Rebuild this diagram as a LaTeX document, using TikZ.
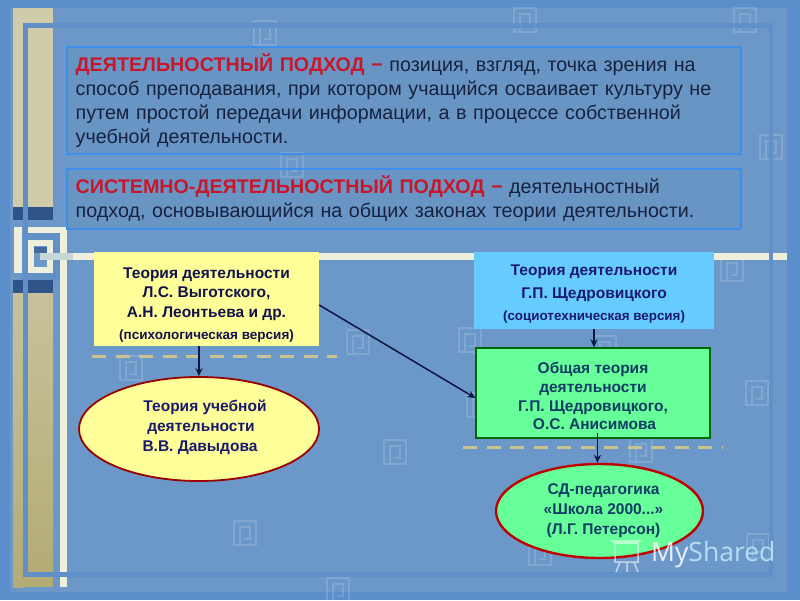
\documentclass[tikz,border=0pt]{standalone}
\usepackage{fontspec}
\setmainfont{Liberation Sans}
\newfontfamily\wmfont{Open Sans}
\usetikzlibrary{shapes.geometric,calc,arrows.meta}
\definecolor{bgout}{HTML}{5A8FCB}
\definecolor{bgin}{HTML}{6C98C9}
\definecolor{frameline}{HTML}{6190C8}
\definecolor{beigetop}{HTML}{D0CBAB}
\definecolor{beigebot}{HTML}{B3AC75}
\definecolor{darkbar}{HTML}{2F5588}
\definecolor{ivory}{HTML}{EEF0DC}
\definecolor{boxline}{HTML}{3D8FEA}
\definecolor{bodytext}{HTML}{16223F}
\definecolor{redtext}{HTML}{C8162B}
\definecolor{navy}{HTML}{1A1A6E}
\definecolor{tealnavy}{HTML}{123C66}
\definecolor{dashcol}{HTML}{C9C391}
\definecolor{cardyellow}{HTML}{FFFF99}
\definecolor{cardblue}{HTML}{66CCFF}
\definecolor{cardgreen}{HTML}{66FF99}
\definecolor{arrowink}{HTML}{0A1540}
\newcommand{\wmark}[2]{%
  \draw[white,opacity=.15,line width=2.2pt,line join=miter]
    (#1-11,#2-12) rectangle (#1+11,#2+12)
    (#1-5,#2+12) -- (#1-5,#2-6) -- (#1+5,#2-6) -- (#1+5,#2+6) -- (#1-1,#2+6);}
\tikzset{
  defbox/.style={draw=boxline,line width=2.4pt,fill=black,fill opacity=.02,text opacity=1,anchor=north west,inner sep=0pt,
    minimum width=674pt,text width=657pt,align=left,text=bodytext,
    font=\fontsize{19.7pt}{24pt}\selectfont},
  card/.style={rectangle,inner sep=0pt,align=center,font=\fontsize{15.5pt}{19.5pt}\selectfont\bfseries},
  oval/.style={ellipse,inner sep=0pt,align=center,line width=1.8pt,font=\fontsize{15.5pt}{20pt}\selectfont\bfseries},
  link/.style={-{Stealth[length=8pt,width=7pt]},line width=1.5pt,draw=arrowink},
  divider/.style={draw=dashcol,line width=3pt,dash pattern=on 14pt off 9.5pt},
}
\begin{document}
\begin{tikzpicture}[x=1pt,y=-1pt]
\useasboundingbox (0,0) rectangle (800,600);
% background
\fill[bgout] (0,0) rectangle (800,600);
\fill[bgin] (10,8) rectangle (787,592);
% watermark spirals
\wmark{265}{33}\wmark{525}{20}\wmark{745}{20}\wmark{771}{147}\wmark{732}{269}
\wmark{292}{165}\wmark{131}{368}\wmark{358}{342}\wmark{245}{533}\wmark{395}{452}
\wmark{338}{590}\wmark{757}{393}\wmark{605}{348}\wmark{478}{405}\wmark{641}{450}
\wmark{758}{546}\wmark{540}{553}\wmark{470}{340}
% left beige strips
\fill[beigetop] (13,8) rectangle (53,23);
\fill[beigetop] (13,23) rectangle (23,207);
\fill[beigetop] (28,28) rectangle (53,207);
\fill[darkbar] (13,207) rectangle (23,220);
\fill[darkbar] (28,207) rectangle (53,220);
\fill[darkbar] (13,280) rectangle (23,293);
\fill[darkbar] (28,280) rectangle (53,293);
\shade[top color=beigetop!70!beigebot,bottom color=beigebot] (13,293) rectangle (23,587);
\shade[top color=beigetop!70!beigebot,bottom color=beigebot] (28,293) rectangle (53,572);
\fill[beigebot] (23,577) rectangle (53,587);
% spiral
\fill[frameline] (22,233) rectangle (60,240);
\fill[frameline] (53,233) rectangle (60,280);
\fill[frameline] (22,273) rectangle (60,280);
\fill[ivory] (13.5,227) rectangle (22,273);
\fill[ivory] (28,227) rectangle (67,233);
\fill[ivory] (28,240) rectangle (34,273);
\fill[ivory] (28,267) rectangle (53,273);
\fill[ivory] (47,240) rectangle (53,273);
\fill[ivory] (28,240) rectangle (53,246);
\fill[darkbar!70!bgin] (34,247) rectangle (47,253);
\fill[ivory] (60,227) rectangle (67,572);
\fill[ivory] (60,577) rectangle (67,587);
\fill[ivory] (73,253) rectangle (769,260);
\fill[ivory] (773,253) rectangle (787,260);
\fill[ivory!70!bgin] (40,253) rectangle (73,260);
% frame
\fill[frameline] (23,23) rectangle (773,28);
\fill[frameline] (23,23) rectangle (28,577);
\fill[frameline] (769,23) rectangle (773,577);
\fill[frameline] (23,572) rectangle (773,577);
% dividers
\draw[divider] (92,356.5) -- (337,356.5);
\draw[divider] (463,447) -- (722,447);
% definition boxes
\node[defbox,minimum height=107pt] (def1) at (66,45.5) {%
{\color{redtext}\bfseries ДЕЯТЕЛЬНОСТНЫЙ ПОДХОД −} позиция, взгляд, точка зрения на\\
способ преподавания, при котором учащийся осваивает культуру не\\
путем простой передачи информации, а в процессе собственной\\
учебной деятельности.};
\node[defbox,minimum height=60pt] (def2) at (66,167.5) {%
{\color{redtext}\bfseries СИСТЕМНО-ДЕЯТЕЛЬНОСТНЫЙ ПОДХОД −} деятельностный\\
подход, основывающийся на общих законах теории деятельности.};
% cards
\node[card,fill=cardyellow,minimum width=225pt,minimum height=94pt,text=navy!70!black] (vyg) at (206.5,299) {%
\rule{0pt}{23pt}Теория деятельности\\Л.С. Выготского,\\А.Н. Леонтьева и др.\\[3pt]{\fontsize{13.5pt}{14pt}\selectfont (психологическая версия)}};
\node[card,fill=cardblue,minimum width=240pt,minimum height=77pt,text=navy] (shch) at (594,290.5) {%
\rule{0pt}{18pt}Теория деятельности\\[3pt]Г.П. Щедровицкого\\[3pt]{\fontsize{13.4pt}{14pt}\selectfont (социотехническая версия)}};
\node[card,draw=green!40!black,line width=1.3pt,fill=cardgreen,minimum width=234pt,minimum height=90pt,text=tealnavy,font=\fontsize{15.5pt}{18.7pt}\selectfont\bfseries] (obsh) at (593,393) {%
\rule{0pt}{18pt}Общая теория\\деятельности\\Г.П. Щедровицкого,\\\hspace*{3pt}О.С. Анисимова};
\node[oval,draw=red!60!black,fill=cardyellow,minimum width=240pt,minimum height=104pt,text=navy] (dav) at (199,429) {%
\hspace*{12pt}Теория учебной\\\hspace*{4pt}деятельности\\\hspace*{2pt}В.В. Давыдова\rule[-7pt]{0pt}{7pt}};
\node[oval,draw=red!75!black,line width=2.4pt,fill=cardgreen,minimum width=207pt,minimum height=94pt,text=tealnavy] (sd) at (599.5,511) {%
\hspace*{8pt}СД-педагогика\\\hspace*{8pt}«Школа 2000...»\\\hspace*{8pt}(Л.Г. Петерсон)};
% connectors
\draw[link] (vyg.south -| dav.north) -- (dav.north);
\draw[link] ($(vyg.east)+(0,6)$) -- ($(obsh.west)+(0,5)$);
\draw[link] (shch.south) -- (shch.south |- obsh.north);
\draw[link] ($(obsh.south -| sd.north)+(-2,-6)$) -- ($(sd.north)+(-2,0)$);
% brand
\node[anchor=west,inner sep=0pt,font=\wmfont\fontsize{26.5pt}{27pt}\selectfont,text opacity=.85] (brand) at (651,555) {\textcolor{white}{My}\textcolor{cyan!25!white}{Shared}};
\draw[white,opacity=.6,line width=1.5pt] (615,543) rectangle (638,562) (611,541) -- (641,541) (620,562) -- (616,572) (627,562) -- (627,572) (634,562) -- (638,572);
\end{tikzpicture}
\end{document}
